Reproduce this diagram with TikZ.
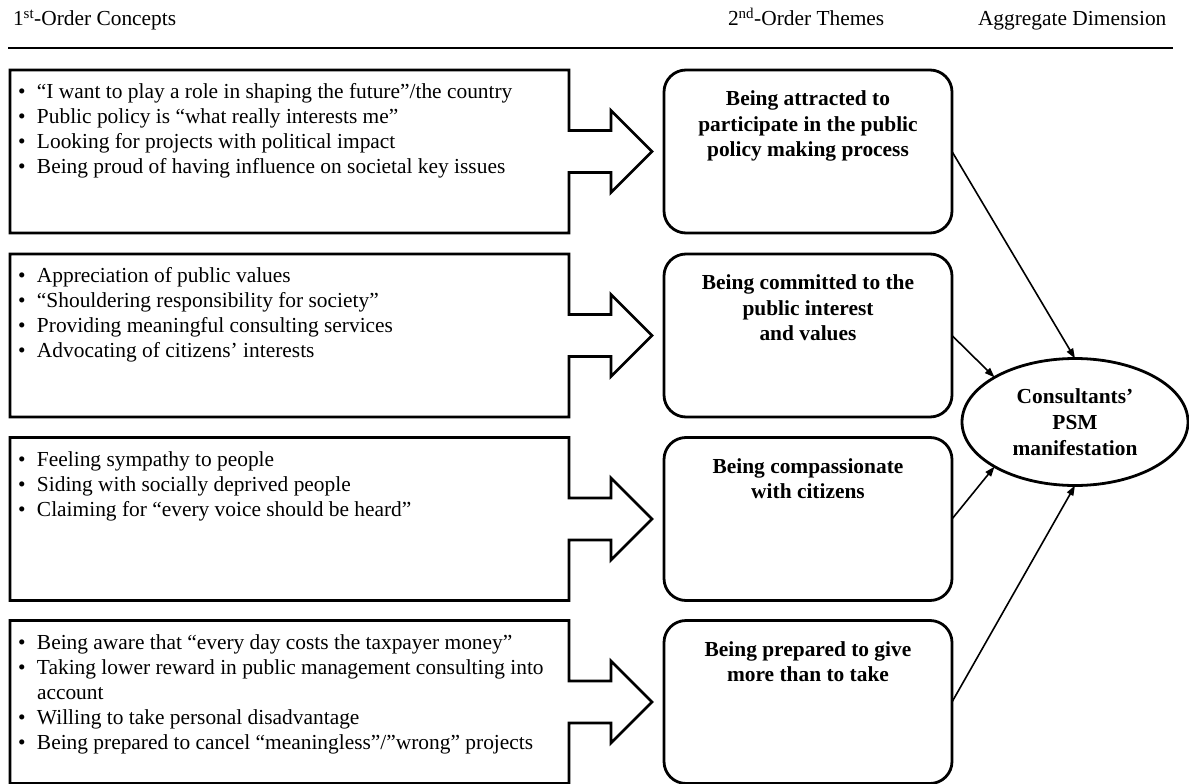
\documentclass[tikz,border=0pt]{standalone}
\usepackage{fontspec}
\setmainfont{Liberation Serif}
\usetikzlibrary{arrows.meta,calc,shapes.geometric}
% bullet item with a fixed hanging space
\newcommand{\bitem}[1]{\makebox[19pt][l]{\textbullet}#1}
\newcommand{\hangspace}{\hspace*{19pt}}
% keeps the first baseline at a fixed distance below the node top
\newcommand{\firststrut}{\rule{0pt}{17.5pt}}
\begin{document}
\begin{tikzpicture}[x=1pt,y=-1pt,
  every node/.style={inner sep=0pt,outer sep=0pt},
  basefont/.style={font=\fontsize{21.4}{25}\selectfont},
  conceptframe/.style={rectangle,minimum width=559pt,minimum height=163pt},
  boxline/.style={line width=2.8pt,line join=miter},
  listtext/.style={font=\fontsize{21.4}{25}\selectfont,align=left,anchor=north west},
  themebox/.style={draw,line width=2.8pt,rounded corners=22pt,minimum width=288pt,minimum height=163pt},
  themetext/.style={font=\fontsize{21.4}{25.5}\selectfont\bfseries,align=center,anchor=north},
  dimension/.style={draw,ellipse,line width=2.8pt,minimum width=226pt,minimum height=127pt,
    font=\fontsize{21.4}{26}\selectfont\bfseries,align=center},
  link/.style={line width=1.6pt,-{Triangle[length=10pt,width=7pt]}},
  header/.style={font=\fontsize{21.4}{25}\selectfont,anchor=base west}
]
\useasboundingbox (0,0) rectangle (1189,784);

% column headings and rule
\node[header] (h1) at (13,26) {1\textsuperscript{st}-Order Concepts};
\node[header] (h2) at (728,26) {2\textsuperscript{nd}-Order Themes};
\node[header] (h3) at (978,26) {Aggregate Dimension};
\coordinate (rl) at (8,48);
\coordinate (rr) at (1173,48);
\draw[line width=2.4pt] (rl) -- (rr);

% first-order concept frames
\node[conceptframe] (c1) at (289.5,151.5) {};
\node[conceptframe] (c2) at (289.5,335.5) {};
\node[conceptframe] (c3) at (289.5,519) {};
\node[conceptframe] (c4) at (289.5,702) {};

% frame outline merged with its block arrow
\foreach \c in {c1,c2,c3,c4}{
  \draw[boxline] ($(\c.east)+(0,-21)$) -- (\c.north east) -- (\c.north west)
    -- (\c.south west) -- (\c.south east) -- ($(\c.east)+(0,21)$)
    -- ($(\c.east)+(42,21)$) -- ($(\c.east)+(42,41)$) -- ($(\c.east)+(83,0)$)
    -- ($(\c.east)+(42,-41)$) -- ($(\c.east)+(42,-21)$) -- cycle;
}

\node[listtext] (l1) at ($(c1.north west)+(8,11)$) {\firststrut\bitem{“I want to play a role in shaping the future”/the country}\\
  \bitem{Public policy is “what really interests me”}\\
  \bitem{Looking for projects with political impact}\\
  \bitem{Being proud of having influence on societal key issues}};
\node[listtext] (l2) at ($(c2.north west)+(8,11)$) {\firststrut\bitem{Appreciation of public values}\\
  \bitem{“Shouldering responsibility for society”}\\
  \bitem{Providing meaningful consulting services}\\
  \bitem{Advocating of citizens’ interests}};
\node[listtext] (l3) at ($(c3.north west)+(8,11)$) {\firststrut\bitem{Feeling sympathy to people}\\
  \bitem{Siding with socially deprived people}\\
  \bitem{Claiming for “every voice should be heard”}};
\node[listtext] (l4) at ($(c4.north west)+(8,11)$) {\firststrut\bitem{Being aware that “every day costs the taxpayer money”}\\
  \bitem{Taking lower reward in public management consulting into}\\
  \hangspace account\\
  \bitem{Willing to take personal disadvantage}\\
  \bitem{Being prepared to cancel “meaningless”/”wrong” projects}};

% second-order themes
\node[themebox] (r1) at (808,151.5) {};
\node[themebox] (r2) at (808,335.5) {};
\node[themebox] (r3) at (808,519) {};
\node[themebox] (r4) at (808,702) {};

\node[themetext] (t1) at ($(r1.north)+(0,18)$) {\firststrut Being attracted to\\participate in the public\\policy making process};
\node[themetext] (t2) at ($(r2.north)+(0,18)$) {\firststrut Being committed to the\\public interest\\and values};
\node[themetext] (t3) at ($(r3.north)+(0,18)$) {\firststrut Being compassionate\\with citizens};
\node[themetext] (t4) at ($(r4.north)+(0,18)$) {\firststrut Being prepared to give\\more than to take};

% aggregate dimension
\node[dimension] (e) at (1075,422) {Consultants’\\PSM\\manifestation};

\draw[link] (r1.east) -- (e.north);
\draw[link] (r2.east) -- (e.151);
\draw[link] (r3.east) -- (e.209);
\draw[link] (r4.east) -- (e.south);
\end{tikzpicture}
\end{document}
